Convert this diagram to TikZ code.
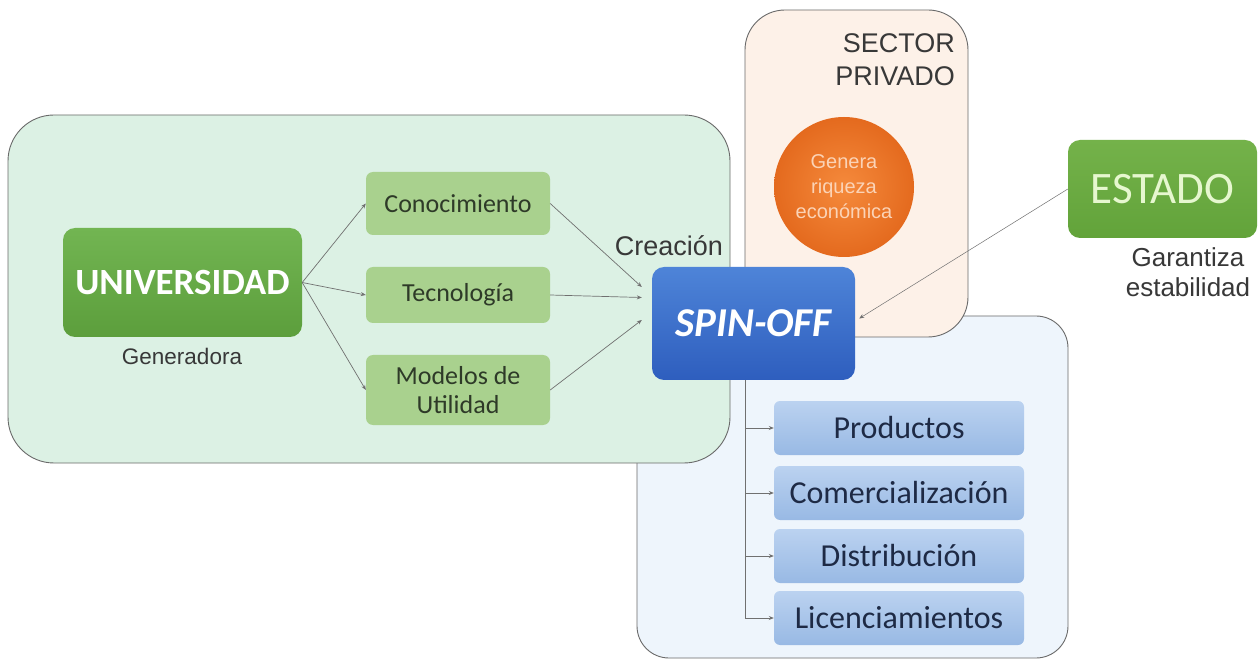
\documentclass[tikz,border=0pt]{standalone}
\usepackage{fontspec}
\setmainfont{Carlito}
\newfontfamily\arialf{Liberation Sans}
\usetikzlibrary{arrows.meta,calc}
\definecolor{gbg}{HTML}{DCF1E4}
\definecolor{pbg}{HTML}{FDF1E8}
\definecolor{bbg}{HTML}{EEF5FC}
\definecolor{frame}{HTML}{6A6A6A}
\definecolor{lg}{HTML}{A9D18E}
\definecolor{lgtxt}{HTML}{2E3A28}
\definecolor{ug1}{HTML}{72B552}
\definecolor{ug2}{HTML}{5C9E3C}
\definecolor{sb1}{HTML}{4E84D8}
\definecolor{sb2}{HTML}{2E5EBE}
\definecolor{pb1}{HTML}{BBD2F0}
\definecolor{pb2}{HTML}{98B9E4}
\definecolor{ptxt}{HTML}{1E2A45}
\definecolor{or1}{HTML}{F58A3C}
\definecolor{or2}{HTML}{E46A1E}
\definecolor{eg1}{HTML}{74B24A}
\definecolor{eg2}{HTML}{62A33A}
\definecolor{conn}{HTML}{707070}
\definecolor{peach}{HTML}{FBD3B6}
\definecolor{estxt}{HTML}{E6F7CF}
\tikzset{
  region/.style={draw=frame, line width=0.9pt},
  subbox/.style={rounded corners=7pt, fill=lg, text=lgtxt, font=\fontsize{26}{30}\selectfont,
     minimum width=184pt, align=center, inner sep=0pt},
  prodbox/.style={rounded corners=6pt, top color=pb1, bottom color=pb2, text=ptxt,
     font=\fontsize{32}{36}\selectfont, minimum width=250pt, minimum height=54pt, inner sep=0pt},
  lbl/.style={text=black!78, align=center, inner sep=0pt},
  arr/.style={draw=conn, line width=0.7pt, -{Stealth[length=5pt,width=4pt]}}
}
\begin{document}
\begin{tikzpicture}[x=1pt,y=-1pt]
\useasboundingbox[fill=white] (0,0) rectangle (1259,660);
% regions
\draw[region, fill=bbg, rounded corners=32pt] (637,316) rectangle (1068,658);
\draw[region, fill=pbg, rounded corners=40pt] (745,10) rectangle (968,337);
\draw[region, fill=gbg, rounded corners=46pt] (8,115) rectangle (730,463);
% nodes
\node[rounded corners=12pt, top color=ug1, bottom color=ug2, minimum width=239pt, minimum height=109pt,
  text=white, font=\bfseries\fontsize{37}{40}\selectfont, inner sep=0pt] (univ) at (182.5,282.5) {UNIVERSIDAD};
\node[lbl, font=\arialf\fontsize{22.5}{26}\selectfont] (gen) at (182,356) {Generadora};
\node[subbox, minimum height=63pt] (con) at (458,203.5) {Conocimiento};
\node[subbox, minimum height=56pt] (tec) at (458,295) {Tecnología};
\node[subbox, minimum height=70pt, font=\fontsize{26}{29}\selectfont] (mod) at (458,390) {Modelos de\\Utilidad};
\node[rounded corners=12pt, top color=sb1, bottom color=sb2, minimum width=203pt, minimum height=113pt,
  text=white, font=\bfseries\itshape\fontsize{41}{44}\selectfont, inner sep=0pt] (spin) at (753.5,323.5) {SPIN-OFF};
\node[lbl, font=\arialf\fontsize{27}{30}\selectfont] (crea) at (669,246) {Creación};
\node[circle, inner color=or1, outer color=or2, minimum size=140pt, inner sep=0pt,
  text=peach, font=\arialf\fontsize{20}{25}\selectfont, align=center] (circ) at (844,187) {Genera\\riqueza\\económica};
\node[lbl, font=\arialf\fontsize{27}{33}\selectfont, align=right, anchor=north east] (sect) at (955,33) {SECTOR\\PRIVADO};
\node[rounded corners=12pt, top color=eg1, bottom color=eg2, minimum width=189pt, minimum height=98pt,
  text=estxt, font=\fontsize{45}{48}\selectfont, inner sep=0pt] (est) at (1162.5,189) {ESTADO};
\node[lbl, font=\arialf\fontsize{26}{30}\selectfont] (gar) at (1188,272) {Garantiza\\estabilidad};
\node[prodbox] (p1) at (899,428) {Productos};
\node[prodbox] (p2) at (899,493) {Comercialización};
\node[prodbox] (p3) at (899,556) {Distribución};
\node[prodbox] (p4) at (899,618) {Licenciamientos};
% connector anchor points
\coordinate (in1) at ($(spin.west)+(-10,-36.5)$);
\coordinate (in2) at ($(spin.west)+(-10,-26)$);
\coordinate (in3) at ($(spin.west)+(-10,-3.5)$);
\coordinate (ein) at ($(spin.east)+(4,-5)$);
\coordinate (trunk) at ($(spin.south)+(-8.5,0)$);
% connectors
\draw[arr] (univ.east) -- (con.west);
\draw[arr] (univ.east) -- (tec.west);
\draw[arr] (univ.east) -- (mod.west);
\draw[arr] (con.east) -- (in1);
\draw[arr] (tec.east) -- (in2);
\draw[arr] (mod.east) -- (in3);
\draw[arr, line width=0.5pt] (est.west) -- (ein);
\draw[draw=conn, line width=0.7pt] (trunk) -- (trunk |- p4.west);
\draw[arr] (trunk |- p1.west) -- (p1.west);
\draw[arr] (trunk |- p2.west) -- (p2.west);
\draw[arr] (trunk |- p3.west) -- (p3.west);
\draw[arr] (trunk |- p4.west) -- (p4.west);
\end{tikzpicture}
\end{document}
